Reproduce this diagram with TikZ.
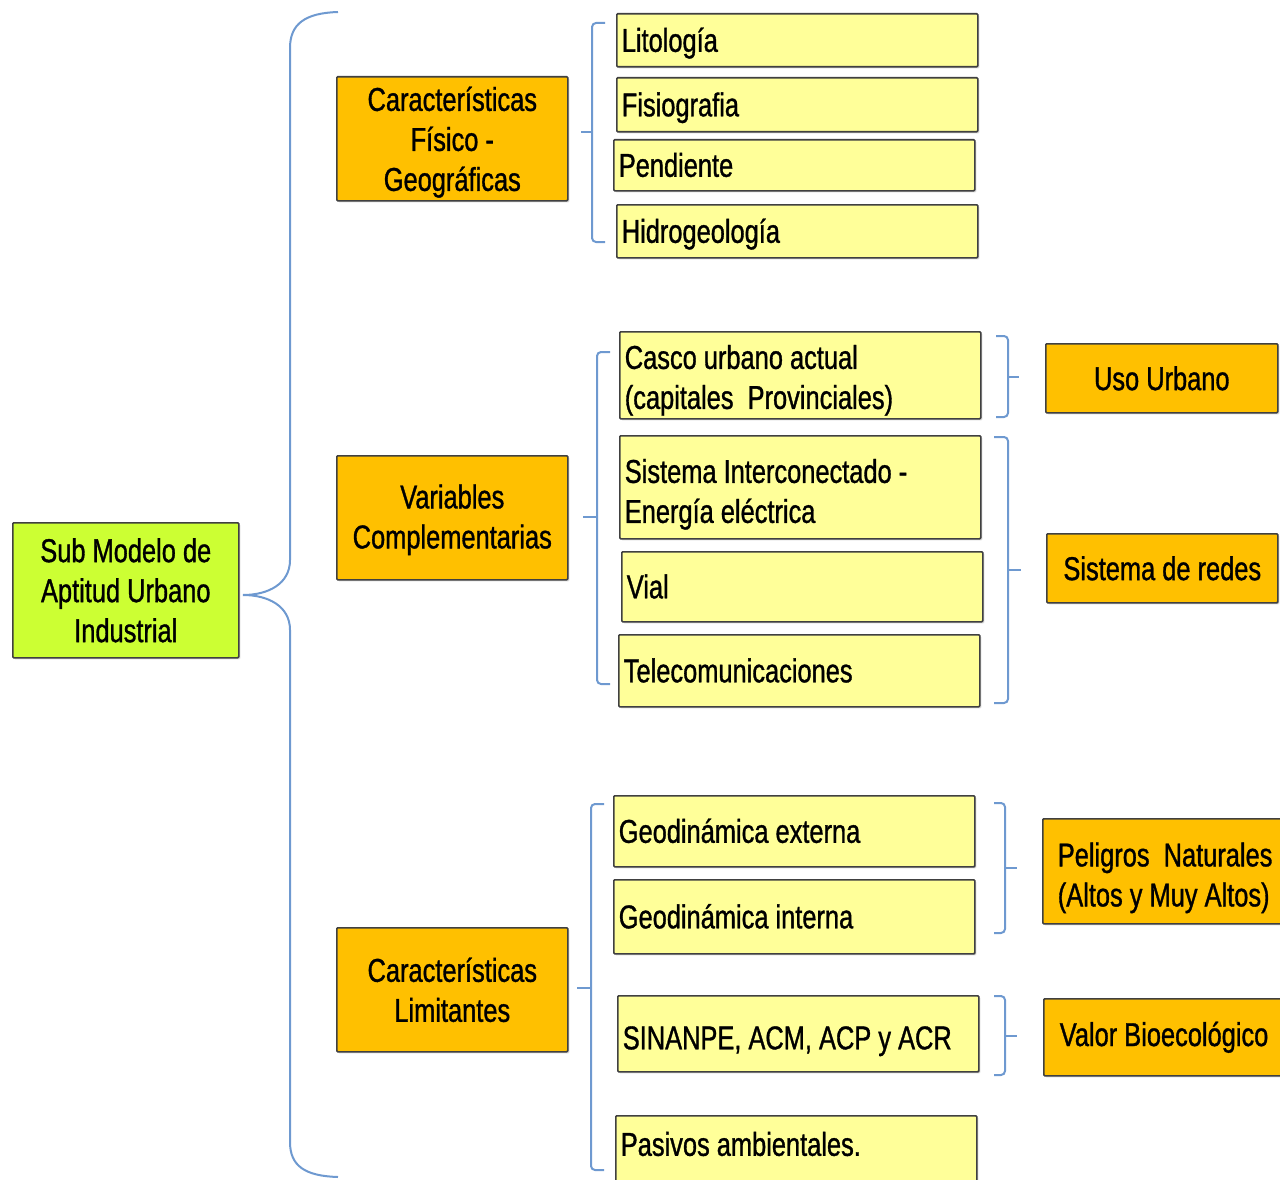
\documentclass[tikz,border=0pt]{standalone}
\usepackage{fontspec}
\setmainfont{Liberation Sans}[FakeStretch=0.77, FakeBold=1]
\usepackage{xcolor}
\usetikzlibrary{positioning,shadows}
\definecolor{limegreen}{RGB}{204,255,51}
\definecolor{amber}{RGB}{255,192,0}
\definecolor{paleyellow}{RGB}{255,255,153}
\definecolor{bracecol}{RGB}{110,153,208}

\begin{document}
\begin{tikzpicture}
[x=1pt, y=-1pt, font=\fontsize{33}{40}\selectfont,
% STYLES
% The box style is the common frame of every box
box/.style={rectangle, draw=black!75, line width=1.6pt, rounded corners=1pt, inner ysep=2pt, drop shadow={shadow xshift=1.5pt, shadow yshift=-1.5pt, opacity=0.3}},
% The model style is used for the sub model on the left
model/.style={box, fill=limegreen, minimum width=226pt, minimum height=135pt, align=center, anchor=north west},
% The group style is used for the three groups of characteristics
group/.style={box, fill=amber, minimum width=231pt, minimum height=124pt, anchor=north west},
% The factor style is used for every factor of a group
factor/.style={box, fill=paleyellow, inner xsep=5pt, text width=351pt, align=flush left, anchor=north west, text height=30pt},
% The result style is used for the boxes on the right
result/.style={box, fill=amber, anchor=north west},
% The brace style is used for the blue braces
brace/.style={draw=bracecol, line width=2pt}]

\clip (0,0) rectangle (1280,1180);

% Draw the sub model and the groups
\node [model] (model) at (12,522) {Sub Modelo de\\Aptitud Urbano\\Industrial};
\node [group, text width=221pt, align=flush center, text height=31pt] (fisico) at (336,76) {Características\\Físico -\\Geográficas};
\node [group, text width=221pt, align=flush center, text height=28pt] (variables) at (336,455) {Variables\\Complementarias};
\node [group, align=center] (limitantes) at (336,927) {Características\\Limitantes};

%%%%%%%%%%%%%%%
% Factors

% fisico
\node [factor, minimum height=53pt, text depth=7pt] (litologia) at (616,13) {Litología};
\node [factor, minimum height=54pt, text depth=7pt] (fisiografia) at (616,77) {Fisiografia};
\node [factor, minimum height=51pt, text depth=7pt] (pendiente) at (613,139) {Pendiente};
\node [factor, minimum height=53pt, text depth=7pt] (hidrogeologia) at (616,204) {Hidrogeología};

% variables
\node [factor, minimum height=87pt, text height=34pt] (casco) at (619,331) {Casco urbano actual\\(capitales~ Provinciales)};
\node [factor, minimum height=103pt, text height=38pt] (sistema) at (619,435) {Sistema Interconectado -\\Energía eléctrica};
\node [factor, minimum height=70pt, text depth=7pt] (vial) at (621,551) {Vial};
\node [factor, minimum height=72pt, text depth=7pt] (telecom) at (618,634) {Telecomunicaciones};

% limitantes
\node [factor, minimum height=71pt, text depth=7pt] (gexterna) at (613,795) {Geodinámica externa};
\node [factor, minimum height=74pt, text depth=7pt] (ginterna) at (613,879) {Geodinámica interna};
\node [factor, minimum height=76pt, text height=38pt, text depth=7pt] (sinanpe) at (617,995) {SINANPE, ACM, ACP y ACR};
\node [factor, text height=36pt, text depth=41pt, inner ysep=4pt] (pasivos) at (615,1115) {Pasivos ambientales.};

% results
\node [result, minimum width=232pt, minimum height=69pt] (uso) at (1045,343) {Uso Urbano};
\node [result, minimum width=231pt, minimum height=69pt] (redes) at (1046,533) {Sistema de redes};
\node [result, inner xsep=15pt, text width=230pt, align=flush left, minimum height=105pt, text height=37pt] (peligros) at (1042,818) {Peligros~ Naturales\\(Altos y Muy Altos)};
\node [result, inner xsep=16pt, text width=230pt, align=flush left, minimum height=77pt] (valor) at (1043,998) {Valor Bioecológico};

%%%%%%%%%%%%%%%%

% Draw the braces
\draw[brace] (338,12) .. controls (305,13) and (290,24) .. (290,48) -- (290,560)
  .. controls (290,584) and (268,595) .. (243,595)
  .. controls (268,595) and (290,606) .. (290,630) -- (290,1142)
  .. controls (290,1166) and (305,1176) .. (338,1177);

\draw[brace, rounded corners=4pt] (605,23) -- (592,23) -- (592,242) -- (605,242);
\draw[brace] (592,132) -- (581,132);
\draw[brace, rounded corners=4pt] (610,352) -- (597,352) -- (597,684) -- (610,684);
\draw[brace] (597,517) -- (583,517);
\draw[brace, rounded corners=4pt] (604,804) -- (591,804) -- (591,1170) -- (604,1170);
\draw[brace] (591,988) -- (577,988);

\draw[brace, rounded corners=4pt] (996,336) -- (1008,336) -- (1008,417) -- (996,417);
\draw[brace] (1008,377) -- (1019,377);
\draw[brace, rounded corners=4pt] (994,437) -- (1008,437) -- (1008,703) -- (994,703);
\draw[brace] (1008,570) -- (1021,570);
\draw[brace, rounded corners=4pt] (994,803) -- (1005,803) -- (1005,933) -- (994,933);
\draw[brace] (1005,868) -- (1017,868);
\draw[brace, rounded corners=4pt] (994,996) -- (1005,996) -- (1005,1075) -- (994,1075);
\draw[brace] (1005,1036) -- (1017,1036);

\end{tikzpicture}
\end{document}
